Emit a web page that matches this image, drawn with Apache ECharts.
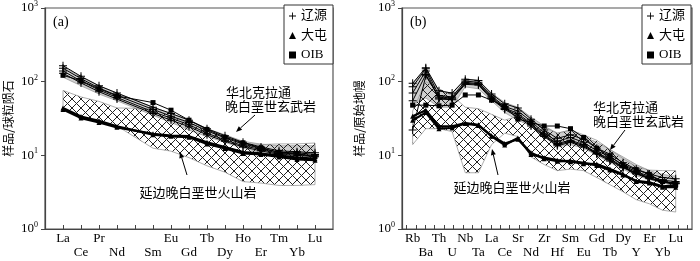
<!DOCTYPE html>
<html><head><meta charset="utf-8">
<script src="https://cdn.jsdelivr.net/npm/echarts@6/dist/echarts.min.js"></script>
<style>html,body{margin:0;padding:0;background:#fff}#c{width:700px;height:261px}</style>
</head><body><div id="c"></div>
<script>
// ---------- (a) chondrite-normalised REE ----------
const reeLabels = ['La','Ce','Pr','Nd','','Sm','Eu','Gd','Tb','Dy','Ho','Er','Tm','Yb','Lu'];
const reeLiaoyuan1 = [165,118,88,70,null,45,37,30,23,18.5,15,13,11.5,11.2,10.8];
const reeLiaoyuan2 = [152,110,82,65,null,42,34,28,21.5,17.2,14.2,12.4,11,10.8,10.3];
const reeLiaoyuan3 = [140,102,77,61,null,39,32,26,20,16.2,13.5,12,10.6,10.4,9.9];
const reeLiaoyuan4 = [130,96,73,58,null,37,30,24.5,19,15.5,13,11.5,10.3,10,9.6];
const reeDatun1 = [44,33.6,29.4,24.7,null,19.1,18.1,17.6,14.3,12.4,10.6,10.3,9.5,8.8,8.6];
const reeDatun2 = [42,32,28,24,null,19.6,18.6,18.2,15,12.9,11.1,10.6,9.9,9.3,9];
const reeOIB = [122,103,80,64,null,52,41,30,22.5,17.6,14.8,12.6,11,10.4,9.6];
const reeNccUpper = [160,115,88,70,null,45,37,30,23,19,15.5,14.2,13.5,13.5,13.5];
const reeNccLower = [115,88,68,55,null,35,28,22,18,15,12.5,11,10,9.8,9.5];
const reeYanbianUpper = [76,62,54,44,null,43,34,27,22,18,14.5,14,14.3,14.3,14.7];
const reeYanbianLower = [44,34,29,25,null,12.5,11.4,9.3,7.2,5.9,4.4,4.2,3.9,3.9,4.0];

// ---------- (b) primitive-mantle-normalised spider ----------
const spLabels = ['Rb','Ba','Th','U','Nb','Ta','La','Ce','Sr','Nd','Zr','Hf','Sm','Eu','Gd','Tb','Dy','Y','Er','Yb','Lu'];
const spLiaoyuan1 = [95,155,75,70,108,104,68,50,44,31,22,17,19,16.5,12.5,10.4,7.9,6.5,5.6,5.0,4.8];
const spLiaoyuan2 = [85,150,65,62,102,98,64,46,40,29,20,15.5,17.5,15,11.5,9.6,7.3,6.0,5.2,4.6,4.4];
const spLiaoyuan3 = [70,140,58,57,98,94,62,44,37,27,19,14.5,16,14,10.8,9,7,5.8,5.0,4.4,4.2];
const spLiaoyuan4 = [55,125,60,58,92,90,58,42,33,25,18,13.5,15,13,10.4,8.4,6.8,5.6,4.8,4.3,4.1];
const spLiaoyuan5 = [22,120,62,60,95,92,60,43,35,26,18.5,14,15.5,13.5,10.6,8.7,6.9,5.7,4.9,4.4,4.2];
const spDatun1 = [34,41,24.7,24.7,27.4,26,18.1,13.8,17.2,10.3,9.3,8.6,8.2,7.7,7.6,6.5,5.55,4.4,4.2,3.7,3.7];
const spDatun2 = [30,38,23,23.5,27,25.5,18.5,14.5,16.5,10.8,9.0,8.3,8.4,7.9,7.3,6.3,5.4,4.5,4.3,3.8,3.9];
const spOIB = [48,48,47,48,66,66,56,46,31,28,25,25,23,17.5,12.5,9.7,7.4,6.4,5.5,4.4,4.0];
const spNccUpper = [95,150,75,70,108,104,70,52,45,33,25,20,22,18,15,12,9.5,7.5,6.2,5.5,5.2];
const spNccLower = [50,60,45,45,85,80,55,38,30,25,18,13,14,12.5,10,8,6.5,5.3,4.7,4.2,3.9];
const spYanbianUpper = [40,100,80,65,45,43,36,30,34,28,24,20,22,19,16,12,9,7,6.3,6.2,6.2];
const spYanbianLower = [14,23,23,21,5.8,5.8,14,20,18,9.5,7.5,6.2,6.5,6.2,5,4,3.2,2.5,2.2,1.8,1.7];

const legendNames = ['辽源','大屯','OIB'];
const yAxisNames = ['样品/球粒陨石','样品/原始地幔'];

const SERIF = "'Liberation Serif','Noto Sans CJK SC',serif";
const CJK = "'Noto Sans CJK SC',sans-serif";
const PLUS = 'path://M3.5,0H4.5V3.5H8V4.5H4.5V8H3.5V4.5H0V3.5H3.5Z';

function hatchPattern(){
  const s = 9, c = document.createElement('canvas');
  c.width = s; c.height = s;
  const g = c.getContext('2d');
  g.strokeStyle = '#222'; g.lineWidth = 1;
  g.beginPath(); g.moveTo(0,0); g.lineTo(s,s); g.moveTo(s,0); g.lineTo(0,s); g.stroke();
  return c;
}
const hatch = hatchPattern();

function field(xi, upper, lower, fill, stroke, z){
  return {type:'custom', xAxisIndex:xi, yAxisIndex:xi, z:z, silent:true, data:[[0,10]],
    renderItem:function(params, api){
      const pts = [];
      upper.forEach(function(v,i){ if(v!=null) pts.push(api.coord([i,v])); });
      for(let i=lower.length-1;i>=0;i--){ if(lower[i]!=null) pts.push(api.coord([i,lower[i]])); }
      return {type:'polygon', shape:{points:pts}, style:{fill:fill, stroke:stroke, lineWidth:0.8}};
    }};
}
function line(name, xi, vals, symbol, size, width, z){
  return {name:name, type:'line', xAxisIndex:xi, yAxisIndex:xi, z:z,
    data: vals.map(function(v,i){ return v==null?null:[i,v]; }).filter(function(d){return d;}),
    symbol:symbol, symbolSize:size, showSymbol:true,
    lineStyle:{color:'#000', width:width}, itemStyle:{color:'#000'}, emphasis:{disabled:true}};
}
function yAxis(gi, name, gap){
  return {type:'log', logBase:10, min:1, max:1000, gridIndex:gi,
    name:name, nameLocation:'middle', nameGap:gap,
    nameTextStyle:{fontFamily:CJK, fontSize:12, color:'#000'},
    axisLine:{show:true, onZero:false, lineStyle:{color:'#444', width:1.2}},
    axisTick:{show:true, inside:false, length:4, lineStyle:{color:'#444'}},
    splitLine:{show:false},
    axisLabel:{margin:7, formatter:function(v){ return '{b|10}{s|'+Math.round(Math.log10(v))+'}'; },
      rich:{b:{fontFamily:SERIF, fontSize:13, color:'#000', lineHeight:16},
            s:{fontFamily:SERIF, fontSize:8, color:'#000', lineHeight:8, verticalAlign:'top'}}}};
}
// main axis: line, ticks, top-row labels (even indices)
function xAxisMain(gi, labels, min, max, tickVals){
  const idx = labels.map(function(_,i){return i;});
  return {type:'value', gridIndex:gi, min:min, max:max,
    axisLine:{show:true, onZero:false, lineStyle:{color:'#444', width:1.2}},
    splitLine:{show:false},
    axisTick:{show:true, inside:true, length:4, customValues:tickVals || idx, lineStyle:{color:'#444'}},
    axisLabel:{customValues:idx.filter(function(i){return i%2===0;}), margin:3, fontFamily:SERIF, fontSize:13, color:'#000',
      showMinLabel:true, showMaxLabel:true, hideOverlap:false,
      formatter:function(v){ return labels[Math.round(v)]||''; }}};
}
// second axis: bottom-row labels (odd indices)
function xAxisOdd(gi, labels, min, max){
  const idx = labels.map(function(_,i){return i;});
  return {type:'value', gridIndex:gi, min:min, max:max, position:'bottom', offset:0,
    axisLine:{show:false, onZero:false}, axisTick:{show:false}, splitLine:{show:false},
    axisLabel:{customValues:idx.filter(function(i){return i%2===1;}), margin:17.5, fontFamily:SERIF, fontSize:13, color:'#000',
      showMinLabel:true, showMaxLabel:true, hideOverlap:false,
      formatter:function(v){ return labels[Math.round(v)]||''; }}};
}

const bMin = -0.81, bMax = 21.24;
const bTicks = [];
for(let k=0;k<31;k++) bTicks.push(bMin + (k+0.5)*(bMax-bMin)/31);

function legend(left){
  return {left:left, top:5, orient:'vertical', itemWidth:7, itemHeight:7, itemGap:5.5,
    padding:[4,6,2,5], borderColor:'#333', borderWidth:1, backgroundColor:'#fff',
    textStyle:{fontFamily:SERIF, fontSize:13, color:'#000', lineHeight:14},
    selectedMode:false,
    data:[{name:legendNames[0], icon:PLUS},{name:legendNames[1], icon:'triangle'},{name:legendNames[2], icon:'rect'}]};
}

function arrow(x1,y1,x2,y2){
  const a = Math.atan2(y2-y1, x2-x1), L=6, W=2.5;
  const bx = x2 - L*Math.cos(a), by = y2 - L*Math.sin(a);
  return [
    {type:'line', shape:{x1:x1,y1:y1,x2:bx,y2:by}, style:{stroke:'#000', lineWidth:1}, z:100},
    {type:'polygon', shape:{points:[[x2,y2],[bx+W*Math.sin(a), by-W*Math.cos(a)],[bx-W*Math.sin(a), by+W*Math.cos(a)]]}, style:{fill:'#000'}, z:100}
  ];
}
function txt(x,y,t,font,align){
  return {type:'text', x:x, y:y, z:100, style:{text:t, font:font, fill:'#000', align:align||'left', verticalAlign:'middle'}};
}
const cjkFont = "13px 'Noto Sans CJK SC'";

const option = {
  animation:false,
  backgroundColor:'#fff',
  grid:[
    {left:45, top:5, width:288, height:224, show:true, borderColor:'#555', borderWidth:1.2},
    {left:402, top:5, width:290, height:224, show:true, borderColor:'#555', borderWidth:1.2}
  ],
  xAxis:[ xAxisMain(0, reeLabels, -1, 15), xAxisMain(1, spLabels, bMin, bMax, bTicks),
          xAxisOdd(0, reeLabels, -1, 15), xAxisOdd(1, spLabels, bMin, bMax) ],
  yAxis:[ yAxis(0, yAxisNames[0], 31), yAxis(1, yAxisNames[1], 37) ],
  legend:[ legend(284), legend(642) ],
  series:[
    field(0, reeNccUpper, reeNccLower, '#cfcfcf', '#999', 1),
    field(0, reeYanbianUpper, reeYanbianLower, {image:hatch, repeat:'repeat'}, '#999', 2),
    line('辽源',0,reeLiaoyuan1,PLUS,8,1,5),
    line('辽源',0,reeLiaoyuan2,PLUS,8,1,5),
    line('辽源',0,reeLiaoyuan3,PLUS,8,1,5),
    line('辽源',0,reeLiaoyuan4,PLUS,8,1,5),
    line('OIB',0,reeOIB,'rect',5,1,6),
    line('大屯',0,reeDatun1,'triangle',5,2.2,7),
    line('大屯',0,reeDatun2,'triangle',5,2.2,7),
    field(1, spNccUpper, spNccLower, '#cfcfcf', '#999', 1),
    field(1, spYanbianUpper, spYanbianLower, {image:hatch, repeat:'repeat'}, '#999', 2),
    line('辽源',1,spLiaoyuan1,PLUS,8,1,5),
    line('辽源',1,spLiaoyuan2,PLUS,8,1,5),
    line('辽源',1,spLiaoyuan3,PLUS,8,1,5),
    line('辽源',1,spLiaoyuan4,PLUS,8,1,5),
    line('辽源',1,spLiaoyuan5,PLUS,8,1,5),
    line('OIB',1,spOIB,'rect',5,1,6),
    line('大屯',1,spDatun1,'triangle',5,2.2,7),
    line('大屯',1,spDatun2,'triangle',5,2.2,7)
  ],
  graphic:[].concat(
    [txt(53,22,'(a)',"14px 'Liberation Serif'"), txt(410,22,'(b)',"14px 'Liberation Serif'"),
     txt(226,92,'华北克拉通',cjkFont), txt(225,106,'晚白垩世玄武岩',cjkFont),
     txt(198,192,'延边晚白垩世火山岩',cjkFont,'center'),
     txt(593,107,'华北克拉通',cjkFont), txt(593,121,'晚白垩世玄武岩',cjkFont),
     txt(512,187,'延边晚白垩世火山岩',cjkFont,'center')],
    arrow(255,115,236,132), arrow(187,175,180,152),
    arrow(625,130,610,150), arrow(498,175,492,149)
  )
};
const chart = echarts.init(document.getElementById('c'));
chart.setOption(option);
</script>
</body></html>
